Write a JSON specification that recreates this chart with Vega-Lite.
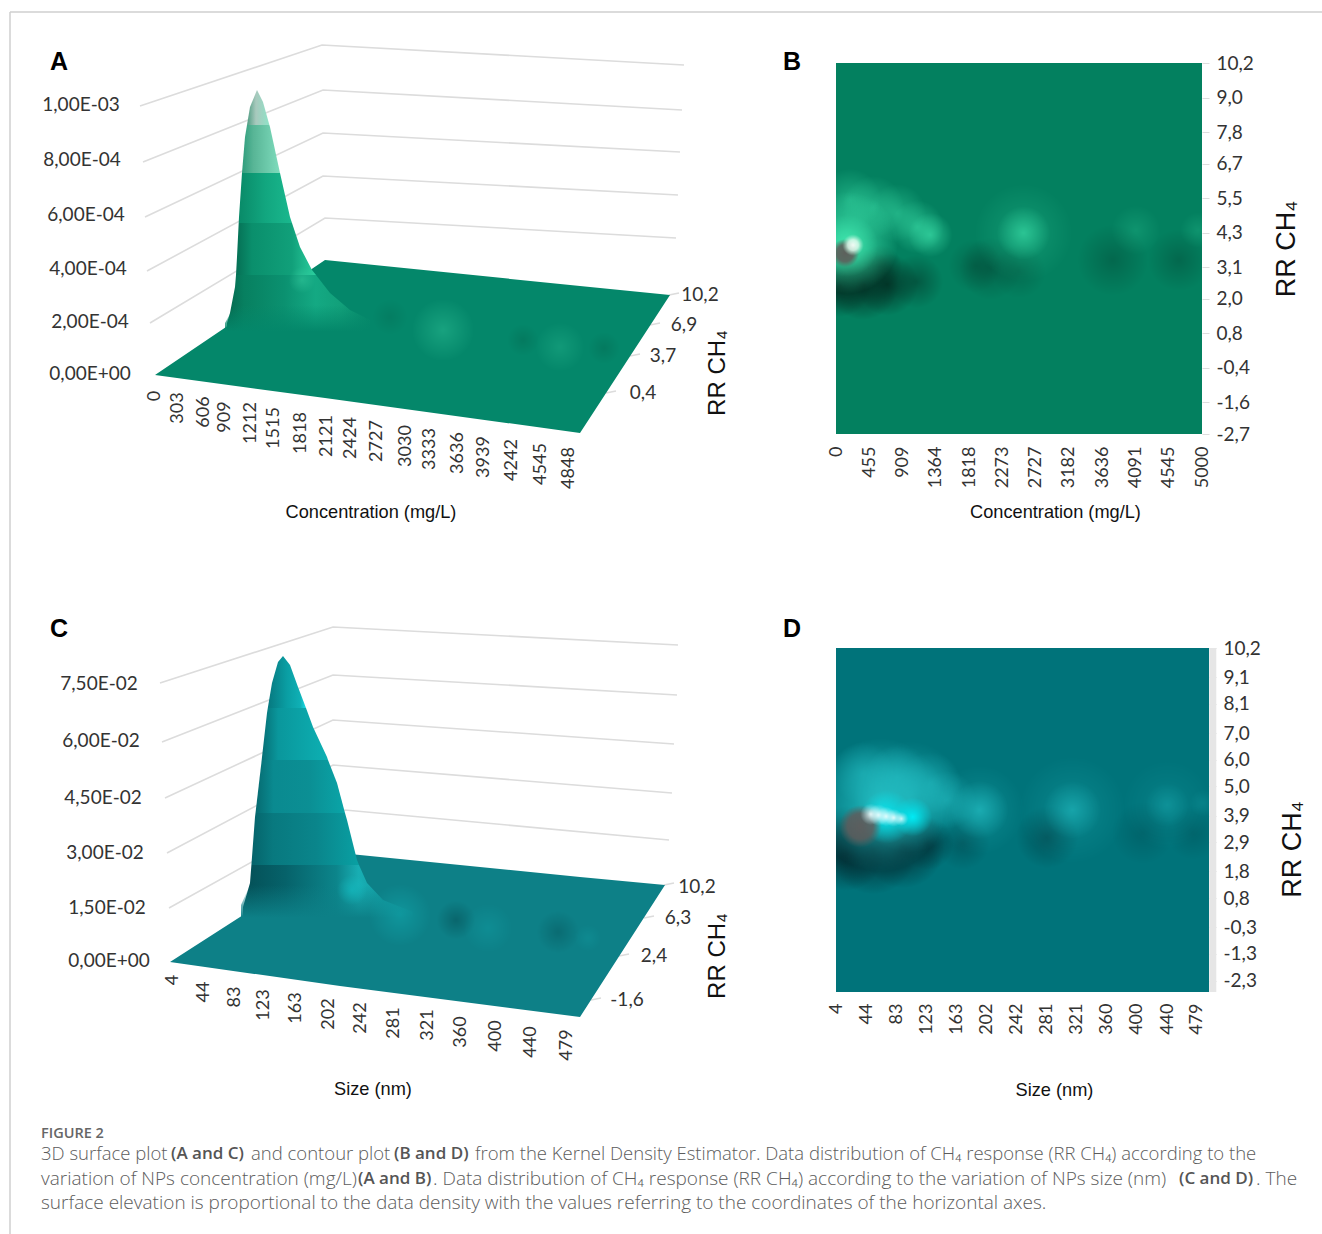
{
"$schema":"https://vega.github.io/schema/vega-lite/v6.json",
"padding":0,
"background":"white",
"bounds":"flush",
"spacing":0,
"columns":2,
"align":"each",
"datasets":{
"frame":[{"x":10,"x2":836,"y":12,"y2":12},{"x":10,"x2":10,"y":12,"y2":1234}],
"frameRight":[{"x":0,"x2":486,"y":12}],
"surfaceA":[
{"part":"wall","level":5,"px":140,"py":106},{"part":"wall","level":5,"px":322,"py":45},{"part":"wall","level":5,"px":684,"py":65},
{"part":"wall","level":4,"px":143,"py":162},{"part":"wall","level":4,"px":323,"py":90},{"part":"wall","level":4,"px":682,"py":110},
{"part":"wall","level":3,"px":145,"py":217},{"part":"wall","level":3,"px":323,"py":133},{"part":"wall","level":3,"px":680,"py":152},
{"part":"wall","level":2,"px":147,"py":271},{"part":"wall","level":2,"px":323,"py":176},{"part":"wall","level":2,"px":678,"py":195},
{"part":"wall","level":1,"px":150,"py":323},{"part":"wall","level":1,"px":325,"py":218},{"part":"wall","level":1,"px":676,"py":238},
{"part":"wall","level":11,"px":669,"py":295},{"part":"wall","level":11,"px":679,"py":293},
{"part":"wall","level":12,"px":650,"py":325},{"part":"wall","level":12,"px":660,"py":323},
{"part":"wall","level":13,"px":630,"py":356},{"part":"wall","level":13,"px":640,"py":354},
{"part":"wall","level":14,"px":606,"py":393},{"part":"wall","level":14,"px":616,"py":391},
{"part":"floor","px":155,"py":375,"py2":375},{"part":"floor","px":325,"py":260,"py2":398},{"part":"floor","px":580,"py":286,"py2":433},{"part":"floor","px":670,"py":295,"py2":295},
{"part":"band1","px":247,"py":125,"py2":125},{"part":"band1","px":250,"py":107,"py2":125},{"part":"band1","px":257,"py":90,"py2":125},{"part":"band1","px":263,"py":102,"py2":125},{"part":"band1","px":269.4,"py":125,"py2":125},
{"part":"band2","px":242,"py":173,"py2":173},{"part":"band2","px":245,"py":137,"py2":173},{"part":"band2","px":247,"py":125,"py2":173},{"part":"band2","px":269.4,"py":125,"py2":173},{"part":"band2","px":270,"py":127,"py2":173},{"part":"band2","px":280,"py":173,"py2":173},
{"part":"band3","px":238.7,"py":223,"py2":223},{"part":"band3","px":239,"py":217,"py2":223},{"part":"band3","px":242,"py":173,"py2":223},{"part":"band3","px":280,"py":173,"py2":223},{"part":"band3","px":290,"py":217,"py2":223},{"part":"band3","px":292,"py":223,"py2":223},
{"part":"band4","px":236,"py":275,"py2":275},{"part":"band4","px":237,"py":257,"py2":275},{"part":"band4","px":238.7,"py":223,"py2":275},{"part":"band4","px":292,"py":223,"py2":275},{"part":"band4","px":300,"py":247,"py2":275},{"part":"band4","px":312,"py":270,"py2":275},{"part":"band4","px":316,"py":275,"py2":275},
{"part":"band5","px":227,"py":323,"py2":330},{"part":"band5","px":230,"py":313,"py2":338},{"part":"band5","px":235,"py":287,"py2":342},{"part":"band5","px":236,"py":275,"py2":343},{"part":"band5","px":316,"py":275,"py2":345},{"part":"band5","px":330,"py":293,"py2":340},{"part":"band5","px":350,"py":310,"py2":335},{"part":"band5","px":370,"py":320,"py2":328},
{"part":"skirt","px":225,"py":323,"py2":332},{"part":"skirt","px":235,"py":305,"py2":346},{"part":"skirt","px":350,"py":305,"py2":346},{"part":"skirt","px":372,"py":318,"py2":330},
{"part":"glow","px":302,"py":280,"density":0.35,"spread":30},{"part":"glow","px":443,"py":330,"density":0.3,"spread":70},{"part":"glow","px":560,"py":347,"density":0.2,"spread":55},
{"part":"shade","px":390,"py":317,"density":0.15,"spread":40},{"part":"shade","px":523,"py":340,"density":0.2,"spread":36},{"part":"shade","px":604,"py":348,"density":0.2,"spread":36},
{"part":"tickX","px":155,"py":396,"label":"0"},{"part":"tickX","px":178,"py":408,"label":"303"},{"part":"tickX","px":203.5,"py":412,"label":"606"},{"part":"tickX","px":225,"py":417,"label":"909"},{"part":"tickX","px":251,"py":423,"label":"1212"},{"part":"tickX","px":274,"py":428,"label":"1515"},{"part":"tickX","px":301,"py":433,"label":"1818"},{"part":"tickX","px":327,"py":436,"label":"2121"},{"part":"tickX","px":351,"py":438,"label":"2424"},{"part":"tickX","px":377,"py":441,"label":"2727"},{"part":"tickX","px":406,"py":446,"label":"3030"},{"part":"tickX","px":430,"py":449,"label":"3333"},{"part":"tickX","px":458,"py":453,"label":"3636"},{"part":"tickX","px":484,"py":457,"label":"3939"},{"part":"tickX","px":512,"py":460,"label":"4242"},{"part":"tickX","px":541,"py":464,"label":"4545"},{"part":"tickX","px":569,"py":468,"label":"4848"},
{"part":"tickY","px":81,"py":105,"label":"1,00E-03"},{"part":"tickY","px":82,"py":160,"label":"8,00E-04"},{"part":"tickY","px":86,"py":215,"label":"6,00E-04"},{"part":"tickY","px":88,"py":269,"label":"4,00E-04"},{"part":"tickY","px":90,"py":322,"label":"2,00E-04"},{"part":"tickY","px":90,"py":374,"label":"0,00E+00"},
{"part":"tickY","px":700,"py":295,"label":"10,2"},{"part":"tickY","px":684,"py":325,"label":"6,9"},{"part":"tickY","px":663,"py":356,"label":"3,7"},{"part":"tickY","px":643,"py":393,"label":"0,4"},
{"part":"titleX","px":371,"py":513,"label":"Concentration (mg/L)"},
{"part":"titleR","px":718,"py":373,"label":"RR CH₄"},
{"part":"letter","px":59,"py":62,"label":"A"},{"part":"letter","px":792,"py":62,"label":"B"},{"part":"letter","px":59,"py":629,"label":"C"},{"part":"letter","px":792,"py":629,"label":"D"}
],
"surfaceC":[
{"part":"wall","level":5,"px":160,"py":683},{"part":"wall","level":5,"px":333,"py":627},{"part":"wall","level":5,"px":678,"py":645},
{"part":"wall","level":4,"px":162,"py":742},{"part":"wall","level":4,"px":333,"py":675},{"part":"wall","level":4,"px":677,"py":695},
{"part":"wall","level":3,"px":165,"py":798},{"part":"wall","level":3,"px":333,"py":720},{"part":"wall","level":3,"px":674,"py":744},
{"part":"wall","level":2,"px":167,"py":853},{"part":"wall","level":2,"px":333,"py":765},{"part":"wall","level":2,"px":672,"py":793},
{"part":"wall","level":1,"px":169,"py":908},{"part":"wall","level":1,"px":345,"py":810},{"part":"wall","level":1,"px":669,"py":840},
{"part":"wall","level":11,"px":664,"py":885},{"part":"wall","level":11,"px":674,"py":883},
{"part":"wall","level":12,"px":644,"py":918},{"part":"wall","level":12,"px":654,"py":916},
{"part":"wall","level":13,"px":619,"py":956},{"part":"wall","level":13,"px":629,"py":954},
{"part":"wall","level":14,"px":591,"py":1000},{"part":"wall","level":14,"px":601,"py":998},
{"part":"floor","px":170,"py":962,"py2":962},{"part":"floor","px":340,"py":853,"py2":986},{"part":"floor","px":580,"py":877,"py2":1017},{"part":"floor","px":665,"py":885,"py2":885},
{"part":"band1","px":267.8,"py":708,"py2":708},{"part":"band1","px":272,"py":683,"py2":708},{"part":"band1","px":278,"py":662,"py2":708},{"part":"band1","px":283,"py":656,"py2":708},{"part":"band1","px":290,"py":665,"py2":708},{"part":"band1","px":298,"py":687,"py2":708},{"part":"band1","px":306,"py":708,"py2":708},
{"part":"band2","px":261.7,"py":760,"py2":760},{"part":"band2","px":262,"py":757,"py2":760},{"part":"band2","px":267,"py":713,"py2":760},{"part":"band2","px":267.8,"py":708,"py2":760},{"part":"band2","px":306,"py":708,"py2":760},{"part":"band2","px":313,"py":727,"py2":760},{"part":"band2","px":327,"py":757,"py2":760},{"part":"band2","px":328,"py":760,"py2":760},
{"part":"band3","px":255.5,"py":813,"py2":813},{"part":"band3","px":261.7,"py":760,"py2":813},{"part":"band3","px":328,"py":760,"py2":813},{"part":"band3","px":337,"py":783,"py2":813},{"part":"band3","px":345,"py":813,"py2":813},
{"part":"band4","px":251.4,"py":865,"py2":865},{"part":"band4","px":255,"py":817,"py2":865},{"part":"band4","px":255.5,"py":813,"py2":865},{"part":"band4","px":345,"py":813,"py2":865},{"part":"band4","px":347,"py":820,"py2":865},{"part":"band4","px":357,"py":860,"py2":865},{"part":"band4","px":359,"py":865,"py2":865},
{"part":"band5","px":243,"py":907,"py2":915},{"part":"band5","px":250,"py":883,"py2":925},{"part":"band5","px":251.4,"py":865,"py2":928},{"part":"band5","px":359,"py":865,"py2":930},{"part":"band5","px":367,"py":883,"py2":925},{"part":"band5","px":383,"py":900,"py2":920},{"part":"band5","px":413,"py":912,"py2":918},
{"part":"skirt","px":241,"py":905,"py2":917},{"part":"skirt","px":250,"py":885,"py2":932},{"part":"skirt","px":380,"py":885,"py2":932},{"part":"skirt","px":415,"py":910,"py2":920},
{"part":"glow","px":352,"py":890,"density":0.6,"spread":34},{"part":"glow","px":400,"py":915,"density":0.35,"spread":70},{"part":"glow","px":488,"py":928,"density":0.2,"spread":55},{"part":"glow","px":588,"py":938,"density":0.15,"spread":30},
{"part":"shade","px":456,"py":920,"density":0.45,"spread":44},{"part":"shade","px":558,"py":932,"density":0.35,"spread":48},
{"part":"tickX","px":173,"py":980,"label":"4"},{"part":"tickX","px":204,"py":992,"label":"44"},{"part":"tickX","px":235,"py":997,"label":"83"},{"part":"tickX","px":264,"py":1005,"label":"123"},{"part":"tickX","px":296,"py":1008,"label":"163"},{"part":"tickX","px":329,"py":1014,"label":"202"},{"part":"tickX","px":361,"py":1018,"label":"242"},{"part":"tickX","px":394,"py":1023,"label":"281"},{"part":"tickX","px":428,"py":1025,"label":"321"},{"part":"tickX","px":461,"py":1032,"label":"360"},{"part":"tickX","px":496,"py":1036,"label":"400"},{"part":"tickX","px":531,"py":1042,"label":"440"},{"part":"tickX","px":567,"py":1045,"label":"479"},
{"part":"tickY","px":99,"py":684,"label":"7,50E-02"},{"part":"tickY","px":101,"py":741,"label":"6,00E-02"},{"part":"tickY","px":103,"py":798,"label":"4,50E-02"},{"part":"tickY","px":105,"py":853,"label":"3,00E-02"},{"part":"tickY","px":107,"py":908,"label":"1,50E-02"},{"part":"tickY","px":109,"py":961,"label":"0,00E+00"},
{"part":"tickY","px":697,"py":887,"label":"10,2"},{"part":"tickY","px":678,"py":918,"label":"6,3"},{"part":"tickY","px":654,"py":956,"label":"2,4"},{"part":"tickY","px":627,"py":1000,"label":"-1,6"},
{"part":"titleX","px":373,"py":1090,"label":"Size (nm)"},
{"part":"titleR","px":718,"py":956,"label":"RR CH₄"}
],
"contourB":[
{"part":"shade","conc":1900,"rr":3.15,"density":0.3,"spread":60},{"part":"shade","conc":2110,"rr":3.05,"density":0.35,"spread":70},{"part":"shade","conc":2500,"rr":2.95,"density":0.25,"spread":60},{"part":"shade","conc":3781,"rr":3.35,"density":0.3,"spread":80},{"part":"shade","conc":4685,"rr":3.35,"density":0.3,"spread":70},
{"part":"shade","conc":55,"rr":2.45,"density":1,"spread":70},{"part":"shade","conc":370,"rr":2.5,"density":1,"spread":80},{"part":"shade","conc":700,"rr":2.5,"density":0.9,"spread":70},{"part":"shade","conc":1100,"rr":2.6,"density":0.5,"spread":60},{"part":"shade","conc":192,"rr":3.0,"density":0.8,"spread":60},{"part":"shade","conc":600,"rr":3.1,"density":0.6,"spread":50},
{"part":"glow","conc":192,"rr":5.44,"density":0.45,"spread":70},{"part":"glow","conc":507,"rr":5.19,"density":0.45,"spread":70},{"part":"glow","conc":836,"rr":4.98,"density":0.45,"spread":65},{"part":"glow","conc":1110,"rr":4.5,"density":0.55,"spread":60},{"part":"glow","conc":1288,"rr":4.22,"density":0.65,"spread":50},
{"part":"glow","conc":2562,"rr":4.29,"density":0.25,"spread":110},{"part":"glow","conc":2562,"rr":4.29,"density":0.6,"spread":60},
{"part":"glow","conc":4096,"rr":4.39,"density":0.2,"spread":55},{"part":"glow","conc":4946,"rr":4.39,"density":0.2,"spread":40},
{"part":"glow","conc":151,"rr":3.95,"density":1,"spread":115},{"part":"glow","conc":151,"rr":3.85,"density":0.8,"spread":70},
{"part":"grey","conc":123,"rr":3.59,"density":0.95,"spread":32},
{"part":"white","conc":233,"rr":3.87,"density":0.95,"spread":24}
],
"contourD":[
{"part":"edge","size":500,"rr":-2.73,"rr2":10.2},
{"part":"shade","size":171,"rr":2.87,"density":0.35,"spread":60},{"part":"shade","size":282,"rr":3.09,"density":0.45,"spread":70},{"part":"shade","size":408,"rr":3.25,"density":0.22,"spread":70},{"part":"shade","size":474,"rr":3.25,"density":0.22,"spread":60},
{"part":"shade","size":18,"rr":2.49,"density":1,"spread":85},{"part":"shade","size":53,"rr":2.61,"density":1,"spread":100},{"part":"shade","size":92,"rr":2.75,"density":1,"spread":95},{"part":"shade","size":124,"rr":2.85,"density":0.7,"spread":60},{"part":"shade","size":18,"rr":3.09,"density":0.8,"spread":70},
{"part":"glow","size":39.5,"rr":5.5,"density":0.4,"spread":70},{"part":"glow","size":84,"rr":5.35,"density":0.4,"spread":70},{"part":"glow","size":128,"rr":5.12,"density":0.4,"spread":70},{"part":"glow","size":150,"rr":4.49,"density":0.45,"spread":65},
{"part":"glow","size":62,"rr":4.3,"density":0.85,"spread":150},{"part":"glow","size":100,"rr":4.6,"density":0.5,"spread":125},
{"part":"glow","size":193,"rr":4.11,"density":0.25,"spread":100},{"part":"glow","size":193,"rr":4.11,"density":0.55,"spread":65},
{"part":"glow","size":315,"rr":4.11,"density":0.22,"spread":120},{"part":"glow","size":315,"rr":4.11,"density":0.45,"spread":65},
{"part":"glow","size":440,"rr":4.3,"density":0.14,"spread":100},{"part":"glow","size":440,"rr":4.3,"density":0.25,"spread":50},{"part":"glow","size":487,"rr":4.37,"density":0.15,"spread":30},
{"part":"core","size":105,"rr":3.85,"density":1,"spread":44},{"part":"core","size":71,"rr":3.85,"density":0.9,"spread":60},
{"part":"grey","size":36,"rr":3.5,"density":0.95,"spread":48},
{"part":"white","size":50,"rr":3.95,"density":0.9,"spread":24},{"part":"white","size":60,"rr":3.92,"density":0.9,"spread":24},{"part":"white","size":70,"rr":3.87,"density":0.9,"spread":22},{"part":"white","size":80,"rr":3.82,"density":0.9,"spread":20},{"part":"white","size":90,"rr":3.78,"density":0.8,"spread":16}
],
"caption":[
{"weight":"normal","px":41,"py":1134,"size":"s","label":"FIGURE 2"},
{"weight":"normal","px":41,"py":1154,"size":"m","label":"3D surface plot"},{"weight":"bold","px":171,"py":1154,"size":"m","label":"(A and C)"},{"weight":"normal","px":251,"py":1154,"size":"m","label":"and contour plot"},{"weight":"bold","px":394,"py":1154,"size":"m","label":"(B and D)"},{"weight":"normal","px":475,"py":1154,"size":"m","label":"from the Kernel Density Estimator. Data distribution of CH₄ response (RR CH₄) according to the"},
{"weight":"normal","px":41,"py":1179,"size":"l","label":"variation of NPs concentration (mg/L)"},{"weight":"bold","px":358,"py":1179,"size":"m","label":"(A and B)"},{"weight":"normal","px":433,"py":1179,"size":"l","label":". Data distribution of CH₄ response (RR CH₄) according to the variation of NPs size (nm)"},{"weight":"bold","px":1179,"py":1179,"size":"m","label":"(C and D)"},{"weight":"normal","px":1256,"py":1179,"size":"l","label":". The"},
{"weight":"normal","px":41,"py":1203,"size":"l","label":"surface elevation is proportional to the data density with the values referring to the coordinates of the horizontal axes."}
]
},
"concat":[
{"width":836,"height":63,"view":{"stroke":null},"data":{"name":"frame"},
 "mark":{"type":"rule","color":"#cfcfcf","strokeWidth":1.5},
 "encoding":{"x":{"field":"x","type":"quantitative","scale":{"domain":[0,836]},"axis":null},"x2":{"field":"x2"},"y":{"field":"y","type":"quantitative","scale":{"domain":[63,0]},"axis":null},"y2":{"field":"y2"}}},
{"width":373,"height":63,"view":{"stroke":null},"data":{"name":"frameRight"},
 "mark":{"type":"rule","color":"#cfcfcf","strokeWidth":1.5},
 "encoding":{"x":{"field":"x","type":"quantitative","scale":{"domain":[0,373]},"axis":null},"x2":{"field":"x2"},"y":{"field":"y","type":"quantitative","scale":{"domain":[63,0]},"axis":null}}},
 {"width":836,"height":585,"view":{"stroke":null},"data":{"name":"surfaceA"},
  "encoding":{"x":{"field":"px","type":"quantitative","scale":{"domain":[0,836]},"axis":null},"y":{"field":"py","type":"quantitative","scale":{"domain":[648,63]},"axis":null}},
  "layer":[
  {"transform":[{"filter":"datum.part=='wall'"}],"mark":{"type":"line","color":"#dcdcdc","strokeWidth":1.6},"encoding":{"detail":{"field":"level"}}},
  {"transform":[{"filter":"datum.part=='floor'"}],"mark":{"type":"area","color":"#04876a"},"encoding":{"y2":{"field":"py2"}}},
  {"transform":[{"filter":"datum.part=='band1'"}],"mark":{"type":"area","color":{"gradient":"linear","x1":0,"y1":0,"x2":1,"y2":0,"stops":[{"offset":0,"color":"#4f9c82"},{"offset":0.4,"color":"#a8c9bd"},{"offset":1,"color":"#8fe3c8"}]}},"encoding":{"y2":{"field":"py2"}}},
  {"transform":[{"filter":"datum.part=='band2'"}],"mark":{"type":"area","color":{"gradient":"linear","x1":0,"y1":0,"x2":1,"y2":0,"stops":[{"offset":0,"color":"#2f9d7c"},{"offset":0.3,"color":"#58b596"},{"offset":1,"color":"#7fdcbd"}]}},"encoding":{"y2":{"field":"py2"}}},
  {"transform":[{"filter":"datum.part=='band3'"}],"mark":{"type":"area","color":{"gradient":"linear","x1":0,"y1":0,"x2":1,"y2":0,"stops":[{"offset":0,"color":"#098a68"},{"offset":0.5,"color":"#12a67f"},{"offset":1,"color":"#1ab88e"}]}},"encoding":{"y2":{"field":"py2"}}},
  {"transform":[{"filter":"datum.part=='band4'"}],"mark":{"type":"area","color":{"gradient":"linear","x1":0,"y1":0,"x2":1,"y2":0,"stops":[{"offset":0,"color":"#056f54"},{"offset":0.2,"color":"#0a8f6c"},{"offset":0.7,"color":"#11a07a"},{"offset":1,"color":"#2ccf9f"}]}},"encoding":{"y2":{"field":"py2"}}},
  {"transform":[{"filter":"datum.part=='band5'"}],"mark":{"type":"area","color":{"gradient":"linear","x1":0,"y1":0,"x2":1,"y2":0,"stops":[{"offset":0,"color":"#05694f"},{"offset":0.12,"color":"#078060"},{"offset":0.4,"color":"#0b9170"},{"offset":0.62,"color":"#14a983"},{"offset":0.8,"color":"#12a07a"},{"offset":1,"color":"#06896a"}]}},"encoding":{"y2":{"field":"py2"}}},
  {"transform":[{"filter":"datum.part=='skirt'"}],"mark":{"type":"area","color":{"gradient":"linear","x1":0,"y1":0,"x2":0,"y2":1,"stops":[{"offset":0,"color":"rgba(4,135,106,0)"},{"offset":0.65,"color":"rgba(4,135,106,1)"},{"offset":1,"color":"rgba(4,135,106,1)"}]}},"encoding":{"y2":{"field":"py2"}}},
  {"transform":[{"filter":"datum.part=='shade'"}],"mark":{"type":"point","shape":"circle","filled":true,"strokeWidth":0,"color":{"gradient":"radial","x1":0.5,"y1":0.5,"r1":0,"x2":0.5,"y2":0.5,"r2":0.5,"stops":[{"offset":0,"color":"rgba(3,70,52,1)"},{"offset":1,"color":"rgba(3,70,52,0)"}]}},"encoding":{"size":{"field":"spread","type":"quantitative","scale":{"type":"pow","exponent":2,"domain":[0,100],"range":[0,7854]},"legend":null},"opacity":{"field":"density","type":"quantitative","scale":null}}},
  {"transform":[{"filter":"datum.part=='glow'"}],"mark":{"type":"point","shape":"circle","filled":true,"strokeWidth":0,"color":{"gradient":"radial","x1":0.5,"y1":0.5,"r1":0,"x2":0.5,"y2":0.5,"r2":0.5,"stops":[{"offset":0,"color":"rgba(70,225,175,1)"},{"offset":1,"color":"rgba(70,225,175,0)"}]}},"encoding":{"size":{"field":"spread","type":"quantitative","scale":{"type":"pow","exponent":2,"domain":[0,100],"range":[0,7854]},"legend":null},"opacity":{"field":"density","type":"quantitative","scale":null}}},
  {"transform":[{"filter":"datum.part=='tickX'"}],"mark":{"type":"text","angle":270,"font":"Lato","fontSize":18,"color":"#333","align":"center","baseline":"middle"},"encoding":{"text":{"field":"label"}}},
  {"transform":[{"filter":"datum.part=='tickY'"}],"mark":{"type":"text","font":"Lato","fontSize":19,"color":"#333","align":"center","baseline":"middle"},"encoding":{"text":{"field":"label"}}},
  {"transform":[{"filter":"datum.part=='titleX'"}],"mark":{"type":"text","font":"Liberation Sans","fontSize":18.2,"color":"#111","align":"center","baseline":"middle"},"encoding":{"text":{"field":"label"}}},
  {"transform":[{"filter":"datum.part=='titleR'"}],"mark":{"type":"text","angle":270,"font":"Liberation Sans","fontSize":24,"color":"#111","align":"center","baseline":"middle"},"encoding":{"text":{"field":"label"}}},
  {"transform":[{"filter":"datum.part=='letter'"}],"mark":{"type":"text","font":"Liberation Sans","fontSize":25,"fontWeight":"bold","color":"#000","align":"center","baseline":"middle"},"encoding":{"text":{"field":"label"}}}
  ]},
 {"width":366,"height":371,"view":{"fill":"#03805f","stroke":null},"data":{"name":"contourB"},
  "encoding":{
   "x":{"field":"conc","type":"quantitative","scale":{"domain":[0,5000]},"axis":{"title":"Concentration (mg/L)","titleFont":"Liberation Sans","titleFontSize":18.2,"titleFontWeight":"normal","titleColor":"#111","titleX":219,"titleY":78,"titleBaseline":"middle","values":[0,455,909,1364,1818,2273,2727,3182,3636,4091,4545,5000],"format":"d","labelAngle":-90,"labelFont":"Lato","labelFontSize":18,"labelColor":"#333","labelPadding":12,"tickSize":0,"domain":false,"grid":false,"labelFlush":false,"labelOverlap":false}},
   "y":{"field":"rr","type":"quantitative","scale":{"domain":[-2.7,10.2]},"axis":{"orient":"right","title":"RR CH₄","titleFont":"Liberation Sans","titleFontSize":27,"titleFontWeight":"normal","titleColor":"#111","titleAngle":270,"titleX":84,"titleBaseline":"middle","values":[10.2,9,7.8,6.7,5.5,4.3,3.1,2,0.8,-0.4,-1.6,-2.7],"labelExpr":"replace(replace(format(datum.value,'.1f'),'.',','),'−','-')","labelFont":"Lato","labelFontSize":19,"labelColor":"#333","labelPadding":7,"tickSize":7,"tickColor":"#dddddd","domain":false,"grid":false,"labelOverlap":false}}},
  "layer":[
  {"transform":[{"filter":"datum.part=='shade'"}],"mark":{"type":"point","clip":true,"shape":"circle","filled":true,"strokeWidth":0,"color":{"gradient":"radial","x1":0.5,"y1":0.5,"r1":0,"x2":0.5,"y2":0.5,"r2":0.5,"stops":[{"offset":0,"color":"rgba(2,48,36,1)"},{"offset":1,"color":"rgba(2,48,36,0)"}]}},"encoding":{"size":{"field":"spread","type":"quantitative","scale":{"type":"pow","exponent":2,"domain":[0,100],"range":[0,7854]},"legend":null},"opacity":{"field":"density","type":"quantitative","scale":null}}},
  {"transform":[{"filter":"datum.part=='glow'"}],"mark":{"type":"point","clip":true,"shape":"circle","filled":true,"strokeWidth":0,"color":{"gradient":"radial","x1":0.5,"y1":0.5,"r1":0,"x2":0.5,"y2":0.5,"r2":0.5,"stops":[{"offset":0,"color":"rgba(60,225,170,1)"},{"offset":1,"color":"rgba(60,225,170,0)"}]}},"encoding":{"size":{"field":"spread","type":"quantitative","scale":{"type":"pow","exponent":2,"domain":[0,100],"range":[0,7854]},"legend":null},"opacity":{"field":"density","type":"quantitative","scale":null}}},
  {"transform":[{"filter":"datum.part=='grey'"}],"mark":{"type":"point","clip":true,"shape":"circle","filled":true,"strokeWidth":0,"color":{"gradient":"radial","x1":0.5,"y1":0.5,"r1":0,"x2":0.5,"y2":0.5,"r2":0.5,"stops":[{"offset":0,"color":"rgba(95,90,88,1)"},{"offset":0.6,"color":"rgba(95,90,88,0.9)"},{"offset":1,"color":"rgba(95,90,88,0)"}]}},"encoding":{"size":{"field":"spread","type":"quantitative","scale":{"type":"pow","exponent":2,"domain":[0,100],"range":[0,7854]},"legend":null},"opacity":{"field":"density","type":"quantitative","scale":null}}},
  {"transform":[{"filter":"datum.part=='white'"}],"mark":{"type":"point","clip":true,"shape":"circle","filled":true,"strokeWidth":0,"color":{"gradient":"radial","x1":0.5,"y1":0.5,"r1":0,"x2":0.5,"y2":0.5,"r2":0.5,"stops":[{"offset":0,"color":"rgba(250,255,250,1)"},{"offset":0.5,"color":"rgba(220,250,235,0.9)"},{"offset":1,"color":"rgba(180,240,215,0)"}]}},"encoding":{"size":{"field":"spread","type":"quantitative","scale":{"type":"pow","exponent":2,"domain":[0,100],"range":[0,7854]},"legend":null},"opacity":{"field":"density","type":"quantitative","scale":null}}}
  ]},
 {"width":836,"height":477,"view":{"stroke":null},"data":{"name":"surfaceC"},
  "encoding":{"x":{"field":"px","type":"quantitative","scale":{"domain":[0,836]},"axis":null},"y":{"field":"py","type":"quantitative","scale":{"domain":[1125,648]},"axis":null}},
  "layer":[
  {"transform":[{"filter":"datum.part=='wall'"}],"mark":{"type":"line","color":"#dcdcdc","strokeWidth":1.6},"encoding":{"detail":{"field":"level"}}},
  {"transform":[{"filter":"datum.part=='floor'"}],"mark":{"type":"area","color":"#0d8087"},"encoding":{"y2":{"field":"py2"}}},
  {"transform":[{"filter":"datum.part=='band1'"}],"mark":{"type":"area","color":{"gradient":"linear","x1":0,"y1":0,"x2":1,"y2":0,"stops":[{"offset":0,"color":"#07787f"},{"offset":0.5,"color":"#0a9ea3"},{"offset":0.85,"color":"#0fb0b5"},{"offset":1,"color":"#1adbe6"}]}},"encoding":{"y2":{"field":"py2"}}},
  {"transform":[{"filter":"datum.part=='band2'"}],"mark":{"type":"area","color":{"gradient":"linear","x1":0,"y1":0,"x2":1,"y2":0,"stops":[{"offset":0,"color":"#066f75"},{"offset":0.25,"color":"#0a979c"},{"offset":1,"color":"#0db0b3"}]}},"encoding":{"y2":{"field":"py2"}}},
  {"transform":[{"filter":"datum.part=='band3'"}],"mark":{"type":"area","color":{"gradient":"linear","x1":0,"y1":0,"x2":1,"y2":0,"stops":[{"offset":0,"color":"#066a70"},{"offset":0.2,"color":"#0a8a90"},{"offset":0.6,"color":"#0b8f94"},{"offset":1,"color":"#0aa5a8"}]}},"encoding":{"y2":{"field":"py2"}}},
  {"transform":[{"filter":"datum.part=='band4'"}],"mark":{"type":"area","color":{"gradient":"linear","x1":0,"y1":0,"x2":1,"y2":0,"stops":[{"offset":0,"color":"#05636a"},{"offset":0.2,"color":"#08797f"},{"offset":0.6,"color":"#0a858b"},{"offset":1,"color":"#09a0a3"}]}},"encoding":{"y2":{"field":"py2"}}},
  {"transform":[{"filter":"datum.part=='band5'"}],"mark":{"type":"area","color":{"gradient":"linear","x1":0,"y1":0,"x2":1,"y2":0,"stops":[{"offset":0,"color":"#044f56"},{"offset":0.25,"color":"#06626a"},{"offset":0.55,"color":"#0c858b"},{"offset":0.68,"color":"#18aeb3"},{"offset":1,"color":"#0c8d92"}]}},"encoding":{"y2":{"field":"py2"}}},
  {"transform":[{"filter":"datum.part=='skirt'"}],"mark":{"type":"area","color":{"gradient":"linear","x1":0,"y1":0,"x2":0,"y2":1,"stops":[{"offset":0,"color":"rgba(13,128,135,0)"},{"offset":0.7,"color":"rgba(13,128,135,1)"},{"offset":1,"color":"rgba(13,128,135,1)"}]}},"encoding":{"y2":{"field":"py2"}}},
  {"transform":[{"filter":"datum.part=='shade'"}],"mark":{"type":"point","shape":"circle","filled":true,"strokeWidth":0,"color":{"gradient":"radial","x1":0.5,"y1":0.5,"r1":0,"x2":0.5,"y2":0.5,"r2":0.5,"stops":[{"offset":0,"color":"rgba(4,70,76,1)"},{"offset":1,"color":"rgba(4,70,76,0)"}]}},"encoding":{"size":{"field":"spread","type":"quantitative","scale":{"type":"pow","exponent":2,"domain":[0,100],"range":[0,7854]},"legend":null},"opacity":{"field":"density","type":"quantitative","scale":null}}},
  {"transform":[{"filter":"datum.part=='glow'"}],"mark":{"type":"point","shape":"circle","filled":true,"strokeWidth":0,"color":{"gradient":"radial","x1":0.5,"y1":0.5,"r1":0,"x2":0.5,"y2":0.5,"r2":0.5,"stops":[{"offset":0,"color":"rgba(20,190,195,1)"},{"offset":1,"color":"rgba(20,190,195,0)"}]}},"encoding":{"size":{"field":"spread","type":"quantitative","scale":{"type":"pow","exponent":2,"domain":[0,100],"range":[0,7854]},"legend":null},"opacity":{"field":"density","type":"quantitative","scale":null}}},
  {"transform":[{"filter":"datum.part=='tickX'"}],"mark":{"type":"text","angle":270,"font":"Lato","fontSize":18,"color":"#333","align":"center","baseline":"middle"},"encoding":{"text":{"field":"label"}}},
  {"transform":[{"filter":"datum.part=='tickY'"}],"mark":{"type":"text","font":"Lato","fontSize":19,"color":"#333","align":"center","baseline":"middle"},"encoding":{"text":{"field":"label"}}},
  {"transform":[{"filter":"datum.part=='titleX'"}],"mark":{"type":"text","font":"Liberation Sans","fontSize":18.2,"color":"#111","align":"center","baseline":"middle"},"encoding":{"text":{"field":"label"}}},
  {"transform":[{"filter":"datum.part=='titleR'"}],"mark":{"type":"text","angle":270,"font":"Liberation Sans","fontSize":24,"color":"#111","align":"center","baseline":"middle"},"encoding":{"text":{"field":"label"}}}
  ]},
 {"width":373,"height":344,"view":{"fill":"#00737a","stroke":null},"data":{"name":"contourD"},
  "encoding":{
   "x":{"field":"size","type":"quantitative","scale":{"domain":[4,495]},"axis":{"title":"Size (nm)","titleFont":"Liberation Sans","titleFontSize":18.2,"titleFontWeight":"normal","titleColor":"#111","titleX":218,"titleY":98,"titleBaseline":"middle","values":[4,44,83,123,163,202,242,281,321,360,400,440,479],"format":"d","labelAngle":-90,"labelFont":"Lato","labelFontSize":18,"labelColor":"#333","labelPadding":11,"tickSize":0,"domain":false,"grid":false,"labelFlush":false,"labelOverlap":false}},
   "y":{"field":"rr","type":"quantitative","scale":{"domain":[-2.73,10.2]},"axis":{"orient":"right","title":"RR CH₄","titleFont":"Liberation Sans","titleFontSize":27,"titleFontWeight":"normal","titleColor":"#111","titleAngle":270,"titleX":83,"titleY":201,"titleBaseline":"middle","values":[10.2,9.1,8.1,7,6,5,3.9,2.9,1.8,0.8,-0.3,-1.3,-2.3],"labelExpr":"replace(replace(format(datum.value,'.1f'),'.',','),'−','-')","labelFont":"Lato","labelFontSize":19,"labelColor":"#333","labelPadding":7,"tickSize":7,"tickColor":"#dddddd","domain":false,"grid":false,"labelOverlap":false}}},
  "layer":[
  {"transform":[{"filter":"datum.part=='edge'"}],"mark":{"type":"rule","strokeWidth":7,"color":"#e6e6e6"},"encoding":{"y2":{"field":"rr2"}}},
  {"transform":[{"filter":"datum.part=='shade'"}],"mark":{"type":"point","clip":true,"shape":"circle","filled":true,"strokeWidth":0,"color":{"gradient":"radial","x1":0.5,"y1":0.5,"r1":0,"x2":0.5,"y2":0.5,"r2":0.5,"stops":[{"offset":0,"color":"rgba(2,44,50,1)"},{"offset":1,"color":"rgba(2,44,50,0)"}]}},"encoding":{"size":{"field":"spread","type":"quantitative","scale":{"type":"pow","exponent":2,"domain":[0,100],"range":[0,7854]},"legend":null},"opacity":{"field":"density","type":"quantitative","scale":null}}},
  {"transform":[{"filter":"datum.part=='glow'"}],"mark":{"type":"point","clip":true,"shape":"circle","filled":true,"strokeWidth":0,"color":{"gradient":"radial","x1":0.5,"y1":0.5,"r1":0,"x2":0.5,"y2":0.5,"r2":0.5,"stops":[{"offset":0,"color":"rgba(40,200,205,1)"},{"offset":1,"color":"rgba(40,200,205,0)"}]}},"encoding":{"size":{"field":"spread","type":"quantitative","scale":{"type":"pow","exponent":2,"domain":[0,100],"range":[0,7854]},"legend":null},"opacity":{"field":"density","type":"quantitative","scale":null}}},
  {"transform":[{"filter":"datum.part=='core'"}],"mark":{"type":"point","clip":true,"shape":"circle","filled":true,"strokeWidth":0,"color":{"gradient":"radial","x1":0.5,"y1":0.5,"r1":0,"x2":0.5,"y2":0.5,"r2":0.5,"stops":[{"offset":0,"color":"rgba(0,235,245,1)"},{"offset":1,"color":"rgba(0,235,245,0)"}]}},"encoding":{"size":{"field":"spread","type":"quantitative","scale":{"type":"pow","exponent":2,"domain":[0,100],"range":[0,7854]},"legend":null},"opacity":{"field":"density","type":"quantitative","scale":null}}},
  {"transform":[{"filter":"datum.part=='grey'"}],"mark":{"type":"point","clip":true,"shape":"circle","filled":true,"strokeWidth":0,"color":{"gradient":"radial","x1":0.5,"y1":0.5,"r1":0,"x2":0.5,"y2":0.5,"r2":0.5,"stops":[{"offset":0,"color":"rgba(95,92,92,1)"},{"offset":0.6,"color":"rgba(95,92,92,0.9)"},{"offset":1,"color":"rgba(95,92,92,0)"}]}},"encoding":{"size":{"field":"spread","type":"quantitative","scale":{"type":"pow","exponent":2,"domain":[0,100],"range":[0,7854]},"legend":null},"opacity":{"field":"density","type":"quantitative","scale":null}}},
  {"transform":[{"filter":"datum.part=='white'"}],"mark":{"type":"point","clip":true,"shape":"circle","filled":true,"strokeWidth":0,"color":{"gradient":"radial","x1":0.5,"y1":0.5,"r1":0,"x2":0.5,"y2":0.5,"r2":0.5,"stops":[{"offset":0,"color":"rgba(250,255,255,1)"},{"offset":1,"color":"rgba(200,245,250,0)"}]}},"encoding":{"size":{"field":"spread","type":"quantitative","scale":{"type":"pow","exponent":2,"domain":[0,100],"range":[0,7854]},"legend":null},"opacity":{"field":"density","type":"quantitative","scale":null}}}
  ]},
{"width":836,"height":109,"view":{"stroke":null},"data":{"name":"caption"},
 "encoding":{"x":{"field":"px","type":"quantitative","scale":{"domain":[0,836]},"axis":null},"y":{"field":"py","type":"quantitative","scale":{"domain":[1234,1125]},"axis":null},"text":{"field":"label"}},
 "layer":[
 {"transform":[{"filter":"datum.size=='s'"}],"mark":{"type":"text","font":"Open Sans","fontSize":14.5,"fontWeight":600,"color":"#666","align":"left","baseline":"middle"}},
 {"transform":[{"filter":"datum.size=='m'&&datum.weight=='normal'"}],"mark":{"type":"text","font":"Open Sans","fontSize":18.5,"fontWeight":300,"color":"#5c5c5c","align":"left","baseline":"middle"}},
 {"transform":[{"filter":"datum.size=='l'"}],"mark":{"type":"text","font":"Open Sans","fontSize":19,"fontWeight":300,"color":"#5c5c5c","align":"left","baseline":"middle"}},
 {"transform":[{"filter":"datum.size=='m'&&datum.weight=='bold'"}],"mark":{"type":"text","font":"Open Sans","fontSize":17,"fontWeight":600,"color":"#555","align":"left","baseline":"middle"}}
 ]}
]
}
